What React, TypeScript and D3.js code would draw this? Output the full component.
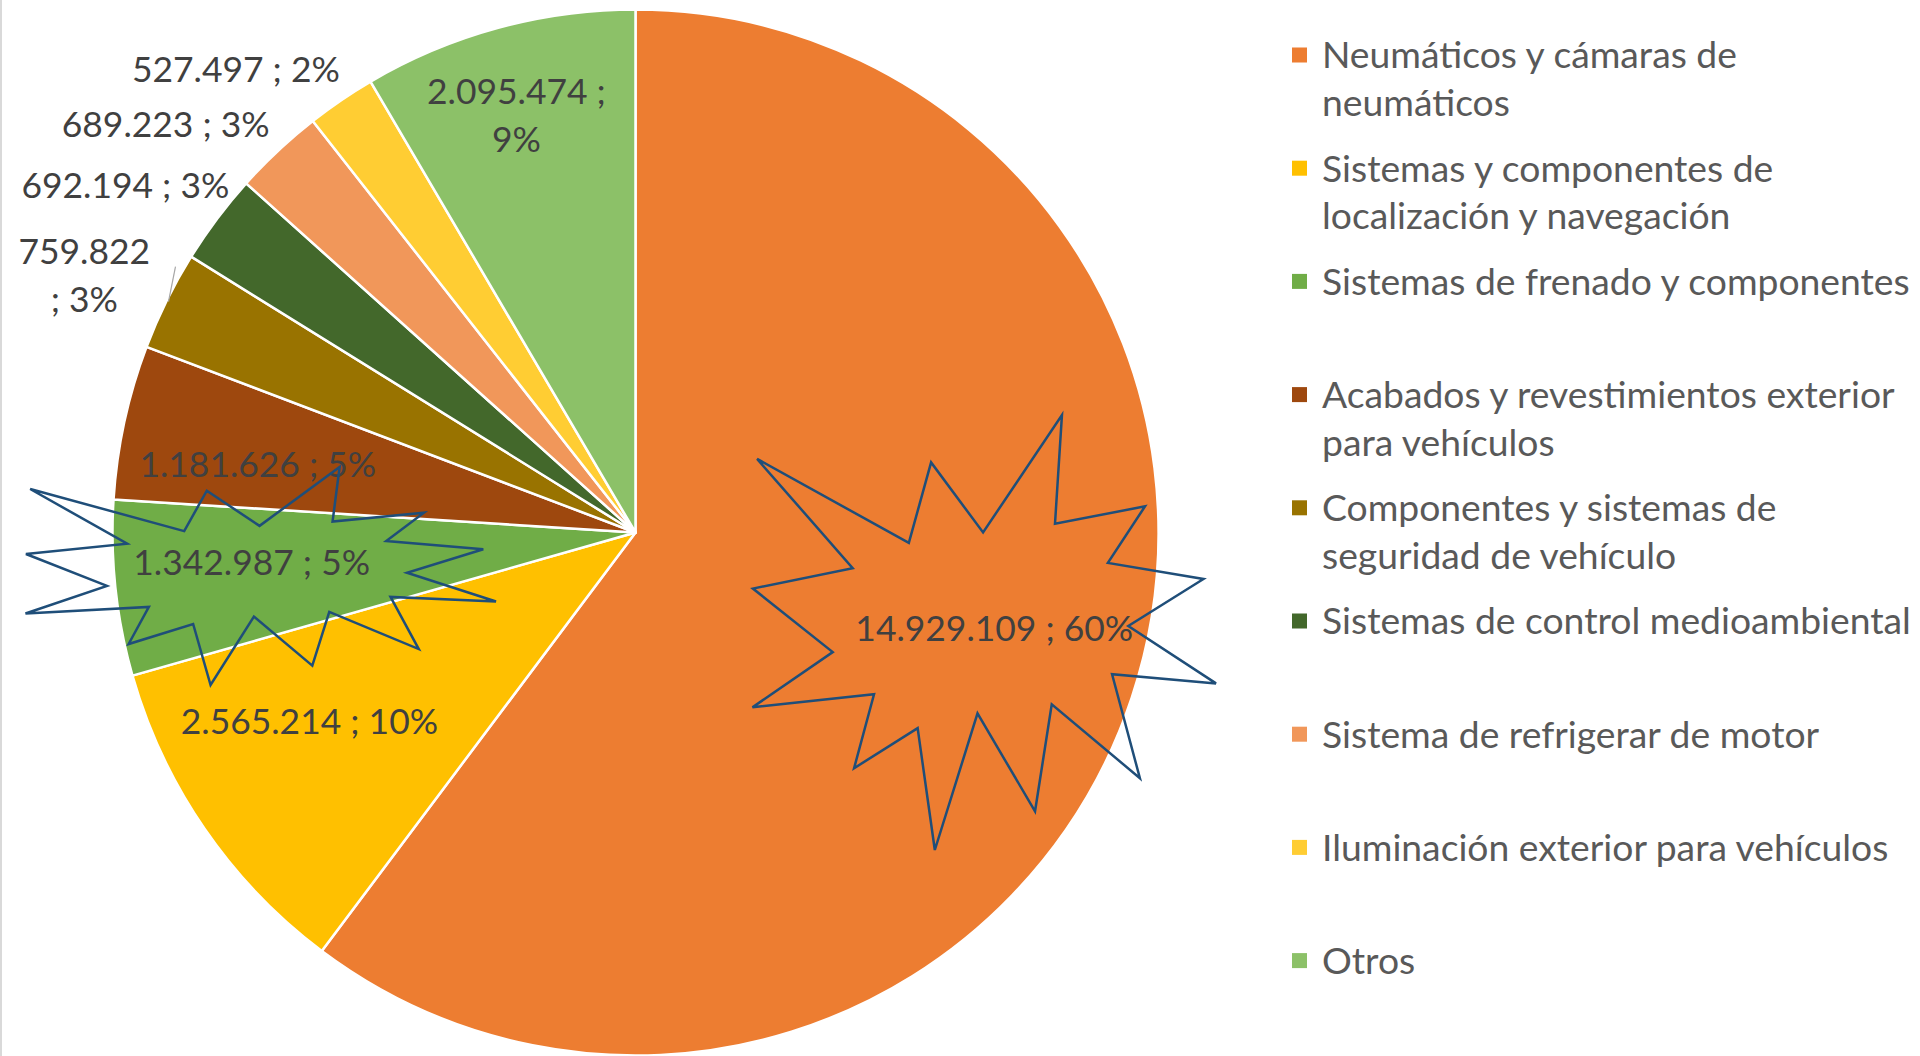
import React, { useMemo } from 'react';
import * as d3 from 'd3';

const categories = [
  'Neumáticos y cámaras de neumáticos',
  'Sistemas y componentes de localización y navegación',
  'Sistemas de frenado y componentes',
  'Acabados y revestimientos exterior para vehículos',
  'Componentes y sistemas de seguridad de vehículo',
  'Sistemas de control medioambiental',
  'Sistema de refrigerar de motor',
  'Iluminación exterior para vehículos',
  'Otros',
];
const values = [14929109, 2565214, 1342987, 1181626, 759822, 692194, 689223, 527497, 2095474];
const colors = ['#ED7D31', '#FFC000', '#70AD47', '#9E480E', '#997300', '#43682B', '#F1975A', '#FFCD33', '#8CC168'];
const legendLines = [
  ['Neumáticos y cámaras de', 'neumáticos'],
  ['Sistemas y componentes de', 'localización y navegación'],
  ['Sistemas de frenado y componentes'],
  ['Acabados y revestimientos exterior', 'para vehículos'],
  ['Componentes y sistemas de', 'seguridad de vehículo'],
  ['Sistemas de control medioambiental'],
  ['Sistema de refrigerar de motor'],
  ['Iluminación exterior para vehículos'],
  ['Otros'],
];
// data label placement: radius factor and angular shift (deg) from slice mid-angle
const labelRadius = [0.71, 0.72, 0.736, 0.734, 1.163, 1.18, 1.19, 1.17, 0.83];
const labelAngleShift = [-3.5, 4.5, 1.7, -1.9, -1.3, -2.6, -5.9, -6.5, -0.7];
const labelBreak = ['', '', '', '', 'before', '', '', '', 'after'];

// starburst ("explosion") outline, normalized to its bounding box
const burstShape: [number, number][] = [
  [0.011, 0.101], [0.338, 0.294], [0.386, 0.109], [0.498, 0.27], [0.668, 0.0], [0.653, 0.25],
  [0.847, 0.21], [0.767, 0.34], [0.973, 0.377], [0.811, 0.485], [1.0, 0.617], [0.776, 0.596],
  [0.836, 0.835], [0.646, 0.665], [0.61, 0.911], [0.486, 0.686], [0.394, 1.0], [0.357, 0.72],
  [0.22, 0.812], [0.263, 0.642], [0.001, 0.672], [0.174, 0.545], [0.002, 0.399], [0.217, 0.352],
];
const bursts = [
  { x: 752, y: 415, w: 464, h: 435 },
  { x: 25, y: 467, w: 471, h: 218 },
];

const W = 1920;
const H = 1056;
const CX = 635.5;
const CY = 532.5;
const R = 523;
const FONT = 'Lato, "Open Sans", sans-serif';

function measure(text: string, font: string) {
  const c = document.createElement('canvas').getContext('2d')!;
  c.font = font;
  return c.measureText(text).width;
}

function roundPercents(vals: number[]) {
  const total = d3.sum(vals);
  const raw = vals.map((v) => (v / total) * 100);
  const fl = raw.map(Math.floor);
  let rest = 100 - d3.sum(fl);
  const order = d3.range(vals.length).sort((a, b) => (raw[b] - fl[b]) - (raw[a] - fl[a]));
  const out = fl.slice();
  for (let i = 0; i < rest; i++) out[order[i]] += 1;
  return out;
}

export default function App() {
  const { legendFs, labelFs } = useMemo(() => {
    const lw = measure('Sistemas de control medioambiental', `100px ${FONT}`);
    const dw = measure('14.929.109 ; 60%', `100px ${FONT}`);
    return { legendFs: (589 / lw) * 100, labelFs: (278 / dw) * 100 };
  }, []);

  const fmt = d3.formatLocale({ decimal: ',', thousands: '.', grouping: [3], currency: ['', '€'] }).format(',d');
  const pcts = roundPercents(values);
  const pie = d3.pie<number>().sort(null).value((d) => d)(values);
  const arc = d3.arc<d3.PieArcDatum<number>>().innerRadius(0).outerRadius(R);

  const polar = (angleRad: number, r: number): [number, number] => [CX + r * Math.sin(angleRad), CY - r * Math.cos(angleRad)];

  const lineH = 47.5;
  const legendY0 = 55;
  const legendStep = 113.2;
  const sq = 15;

  const burstLine = d3.line<[number, number]>().curve(d3.curveLinearClosed);

  // leader for slice 4 (outside label)
  const s4 = pie[4];
  const leadStart = polar((s4.startAngle + s4.endAngle) / 2, R - 2);

  return (
    <svg width={W} height={H} style={{ position: 'fixed', left: 0, top: 0, background: '#fff' }} fontFamily={FONT}>
      <rect x={0} y={0} width={W} height={H} fill="#fff" />
      <line x1={1} y1={0} x2={1} y2={H} stroke="#D9D9D9" strokeWidth={2} />
      <g transform={`translate(${CX},${CY})`}>
        {pie.map((d, i) => (
          <path key={i} d={arc(d) || ''} fill={colors[i]} stroke="#fff" strokeWidth={2.5} strokeLinejoin="round" />
        ))}
      </g>
      <line x1={leadStart[0]} y1={leadStart[1]} x2={leadStart[0] + 7} y2={leadStart[1] - 35} stroke="#A6A6A6" strokeWidth={1.2} />
      {pie.map((d, i) => {
        const mid = (d.startAngle + d.endAngle) / 2 + (labelAngleShift[i] * Math.PI) / 180;
        const [x, y] = polar(mid, labelRadius[i] * R);
        const v = fmt(values[i]);
        const p = `${pcts[i]}%`;
        let lines: string[];
        if (labelBreak[i] === 'before') lines = [v, `; ${p}`];
        else if (labelBreak[i] === 'after') lines = [`${v} ;`, p];
        else lines = [`${v} ; ${p}`];
        const y0 = y - ((lines.length - 1) * lineH) / 2;
        return (
          <text key={i} x={x} textAnchor="middle" fontSize={labelFs} fill="#404040">
            {lines.map((t, j) => (
              <tspan key={j} x={x} y={y0 + j * lineH + labelFs * 0.36}>{t}</tspan>
            ))}
          </text>
        );
      })}
      {bursts.map((b, i) => {
        const pts = burstShape.map(([u, v]) => [b.x + u * b.w, b.y + v * b.h] as [number, number]);
        return <path key={i} d={burstLine(pts) || ''} fill="none" stroke="#1F4E79" strokeWidth={2.5} strokeLinejoin="miter" />;
      })}
      <g>
        {categories.map((c, i) => {
          const yc = legendY0 + i * legendStep;
          return (
            <g key={c}>
              <rect x={1292} y={yc - sq / 2} width={sq} height={sq} fill={colors[i]} />
              <text x={1322} fontSize={legendFs} fill="#595959">
                {legendLines[i].map((t, j) => (
                  <tspan key={j} x={1322} y={yc + j * lineH + legendFs * 0.36}>{t}</tspan>
                ))}
              </text>
            </g>
          );
        })}
      </g>
    </svg>
  );
}
